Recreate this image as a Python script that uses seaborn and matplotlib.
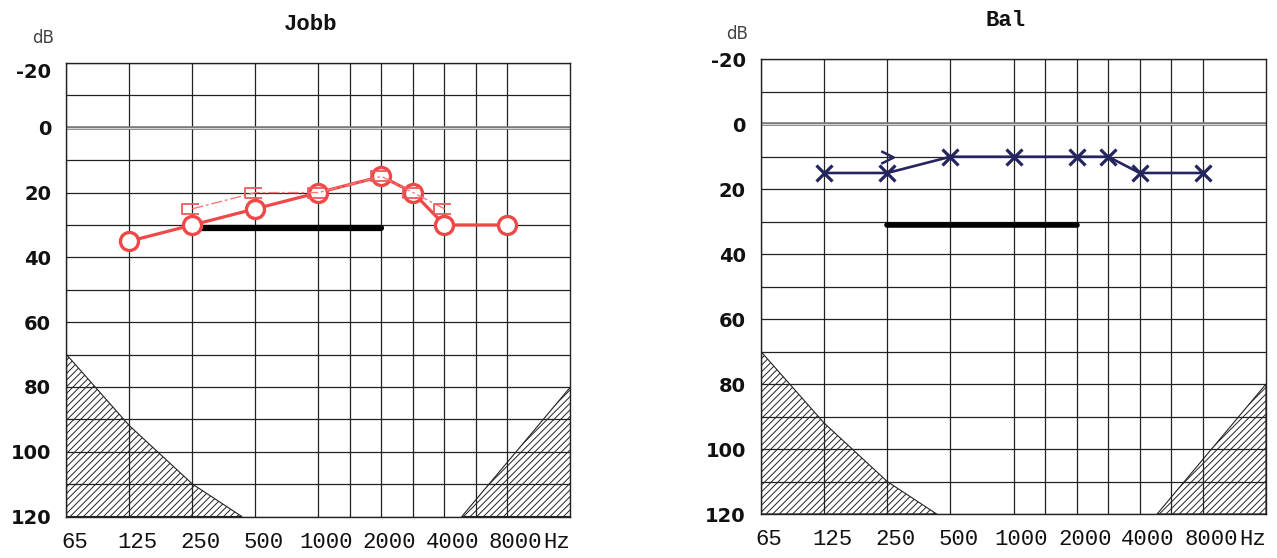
import numpy as np
import matplotlib
matplotlib.use("Agg")
import matplotlib.pyplot as plt
import matplotlib.transforms as mtransforms
from matplotlib.path import Path
import seaborn as sns

# audiogram readings (dB HL)
freqs = [125, 250, 500, 1000, 2000, 3000, 4000, 8000]
jobb_air = [35, 30, 25, 20, 15, 20, 30, 30]
jobb_bone_freqs = [250, 500, 1000, 2000, 3000, 4000]
jobb_bone = [25, 20, 20, 15, 20, 25]
bal_air = [15, 15, 10, 10, 10, 10, 15, 15]
bal_bone_freqs = [250]
bal_bone = [10]
bar_freqs = [250, 2000]
bar_level = [31, 31]

# hatched zones at the corners
low_zone_freqs = [65, 125, 250, 430]
low_zone_db = [70, 92, 110, 120]
high_zone_freqs = [5000, 16000]
high_zone_db = [120, 80]

tick_freqs = [65, 125, 250, 500, 1000, 2000, 4000, 8000]
tick_labels = ["65", "125", "250", "500", "1000", "2000", "4000", "8000"]
half_freqs = [1500, 3000, 6000]
db_ticks = list(range(-20, 121, 20))
db_minor = list(range(-10, 120, 20))

# audiogram frequency axis: octaves evenly spaced, half octaves in the middle
scale_freqs = [1, 65, 125, 250, 500, 1000, 1500, 2000, 3000, 4000, 6000, 8000, 16000, 1e6]
scale_pos = [-np.log2(65), 0, 1, 2, 3, 4, 4.5, 5, 5.5, 6, 6.5, 7, 8, 8 + np.log2(1e6 / 16000)]


def freq_to_pos(x):
    x = np.clip(np.asarray(x, dtype=float), 1, 1e6)
    return np.interp(np.log2(x), np.log2(scale_freqs), scale_pos)


def pos_to_freq(p):
    return 2 ** np.interp(p, scale_pos, np.log2(scale_freqs))


RED = "#f04848"
NAVY = "#24245e"
MONO = "Liberation Mono"

bracket = Path([(7, 5.5), (-10.5, 5.5), (-10.5, -5.5), (7, -5.5)],
               [Path.MOVETO, Path.LINETO, Path.LINETO, Path.LINETO])
chevron = Path([(-0.5, 0.5), (0.5, 0.0), (-0.5, -0.5)],
               [Path.MOVETO, Path.LINETO, Path.LINETO])

sns.set_theme(style="white")
plt.rcParams["font.family"] = ["DejaVu Sans"]
plt.rcParams["hatch.linewidth"] = 0.7


def setup_axes(fig, ax, title):
    ax.set_xscale("function", functions=(freq_to_pos, pos_to_freq))
    ax.set_xlim(65, 16000)
    ax.set_ylim(120, -20)
    ax.set_xticks(tick_freqs, tick_labels, fontfamily=MONO, fontsize=16, color="#111")
    ax.set_xticks(half_freqs, minor=True)
    ax.set_yticks(db_ticks, [str(v) for v in db_ticks], fontfamily="DejaVu Sans",
                  fontweight="bold", fontsize=14, color="#111")
    ax.set_yticks(db_minor, minor=True)
    ax.set_axisbelow(True)
    ax.grid(which="both", color="#222", lw=0.9)
    ax.axhline(0, color="#7a7a7a", lw=2.6, zorder=1.5)
    ax.axhline(0, color="#d8d8d8", lw=0.7, zorder=1.6)
    ax.tick_params(which="both", length=0)
    ax.tick_params(axis="x", pad=11)
    ax.tick_params(axis="y", pad=11)
    for s in ax.spines.values():
        s.set_color("#222")
        s.set_linewidth(1.0)

    ax.fill_between(low_zone_freqs, low_zone_db, 120, facecolor="none",
                    edgecolor="#222", hatch="/////", lw=0.8, zorder=1)
    ax.fill_between(high_zone_freqs, high_zone_db, 120, facecolor="none",
                    edgecolor="#222", hatch="/////", lw=0.8, zorder=1)

    offset = mtransforms.ScaledTranslation(0.08, 0, fig.dpi_scale_trans)
    for lab in ax.get_xticklabels():
        lab.set_transform(lab.get_transform() + offset)

    ax.annotate(title, xy=(0.484, 1), xycoords="axes fraction", xytext=(0, 28),
                textcoords="offset points", ha="center", va="center",
                fontfamily=MONO, fontweight="bold", fontsize=16, color="#111")
    ax.annotate("dB", xy=(0, 1), xycoords="axes fraction", xytext=(-17, 18),
                textcoords="offset points", ha="center", va="center",
                fontsize=12, color="#444")
    ax.annotate("Hz", xy=(1, 0), xycoords="axes fraction", xytext=(0, -11),
                textcoords="offset points", ha="right", va="top",
                fontfamily=MONO, fontsize=16, color="#111")


fig = plt.figure(figsize=(12.77, 5.58), dpi=100)
ax_l = fig.add_axes([0.05207, 0.07437, 0.39468, 0.81272])
ax_r = fig.add_axes([0.59593, 0.07885, 0.39546, 0.81487])

setup_axes(fig, ax_l, "Jobb")
setup_axes(fig, ax_r, "Bal")

# right ear (Jobb)
sns.lineplot(x=bar_freqs, y=bar_level, ax=ax_l, color="black", lw=4.5, zorder=3)
sns.lineplot(x=freqs, y=jobb_air, ax=ax_l, color=RED, lw=2.3, marker="o", ms=13,
             mfc="white", mec=RED, mew=2.4, zorder=4)
sns.lineplot(x=jobb_bone_freqs, y=jobb_bone, ax=ax_l, color="#f27c7c", lw=1.0,
             linestyle=(0, (8, 2, 2, 2)), marker=bracket, ms=15, mfc="none",
             mec="#f05a5a", mew=1.3, zorder=5)

# left ear (Bal)
sns.lineplot(x=bar_freqs, y=bar_level, ax=ax_r, color="black", lw=4.0, zorder=3)
sns.lineplot(x=freqs, y=bal_air, ax=ax_r, color=NAVY, lw=1.9, marker="x", ms=12,
             mec=NAVY, mew=2.3, zorder=4)
sns.lineplot(x=bal_bone_freqs, y=bal_bone, ax=ax_r, color=NAVY, lw=0, marker=chevron,
             ms=9, mfc="none", mec=NAVY, mew=1.8, zorder=5)

for ax in (ax_l, ax_r):
    ax.set_xlim(65, 16000)
    ax.set_ylim(120, -20)
    ax.set_xlabel("")
    ax.set_ylabel("")

ax_l.get_yticklabels()[0].set_va("top")

fig.savefig("out.png", dpi=100)
